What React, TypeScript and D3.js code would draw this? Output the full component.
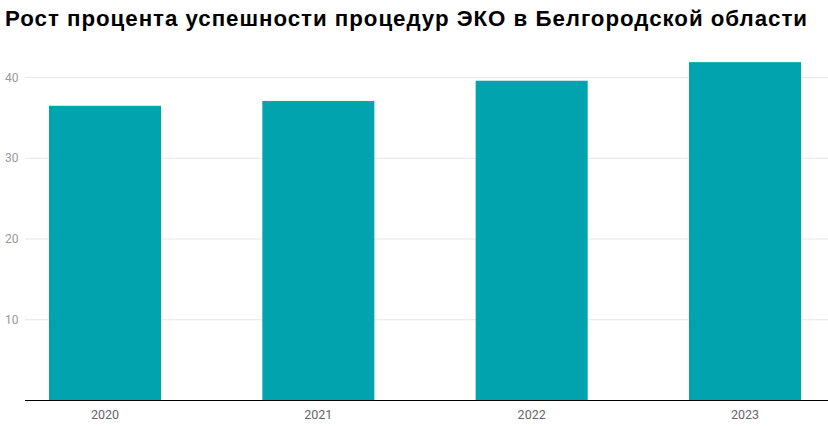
import React from "react";
import * as d3 from "d3";

const title = "Рост процента успешности процедур ЭКО в Белгородской области";
const years = ["2020", "2021", "2022", "2023"];
const values = [36.5, 37.1, 39.6, 41.9];
const yTicks = [10, 20, 30, 40];

const W = 828;
const H = 426;
const left = 25;
const right = 825;
const baseline = 400.5;

export default function App() {
  const x = d3.scaleBand<string>().domain(years).range([left, right]).paddingInner(0.475).paddingOuter(0.1125);
  const y = d3.scaleLinear().domain([0, 40]).range([baseline, 77.5]);
  return (
    <svg width={W} height={H} style={{ position: "absolute", left: 0, top: 0, background: "#fff" }}>
      <text
        x={5}
        y={25.5}
        fontFamily="'Liberation Sans', Arial, sans-serif"
        fontWeight="bold"
        fontSize={22.3}
        fill="#000"
        textLength={802}
        lengthAdjust="spacing"
      >
        {title}
      </text>
      {yTicks.map((t) => (
        <g key={t}>
          <line x1={left} x2={W} y1={y(t)} y2={y(t)} stroke="#e6e6e6" strokeWidth={1} />
          <text x={18.5} y={y(t)} dy="0.35em" textAnchor="end" fontFamily="Roboto, sans-serif" fontSize={12} fill="#999">
            {t}
          </text>
        </g>
      ))}
      {years.map((yr, i) => (
        <rect key={yr} x={x(yr)} y={y(values[i])} width={x.bandwidth()} height={baseline - y(values[i])} fill="#00A3AE" />
      ))}
      <line x1={left} x2={W} y1={baseline} y2={baseline} stroke="#000" strokeWidth={1} />
      {years.map((yr) => (
        <text key={yr} x={(x(yr) as number) + x.bandwidth() / 2} y={419.3} textAnchor="middle" fontFamily="Roboto, sans-serif" fontSize={12.5} fill="#666">
          {yr}
        </text>
      ))}
    </svg>
  );
}
